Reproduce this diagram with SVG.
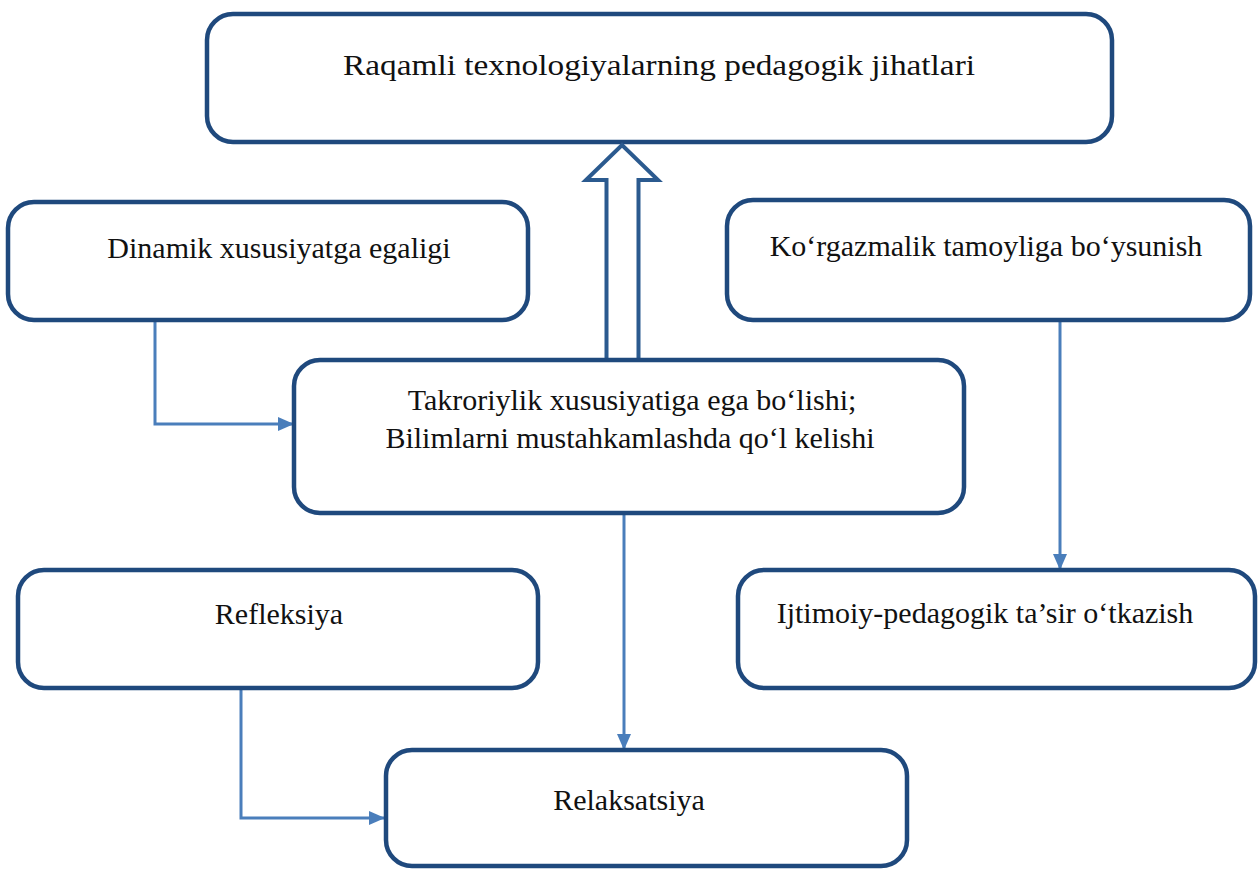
<svg xmlns="http://www.w3.org/2000/svg" width="1258" height="869" viewBox="0 0 1258 869">
<defs>
<style>
.box{fill:#fff;stroke:#1f497d;stroke-width:4.5}
.t{font-family:"Liberation Serif","Times New Roman",serif;font-size:30px;fill:#111;text-anchor:middle}
.c{fill:none;stroke:#4a7ebb;stroke-width:3}
.big{fill:#fff;stroke:#2b5a8f;stroke-width:4;stroke-linejoin:miter}
</style>
<marker id="ah" viewBox="0 0 16 14" refX="16" refY="7" markerWidth="16" markerHeight="14" markerUnits="userSpaceOnUse" orient="auto">
<path d="M0,0 L16,7 L0,14 Z" fill="#4a7ebb"/>
</marker>
</defs>
<rect width="1258" height="869" fill="#fff"/>
<g id="n-title"><rect class="box" x="207" y="14" width="905" height="128" rx="26"/><text class="t" x="659" y="75" textLength="632" lengthAdjust="spacingAndGlyphs">Raqamli texnologiyalarning pedagogik jihatlari</text></g>
<g id="connectors">
<path class="big" d="M606.5,359 L606.5,180 L586,180 L622,145 L658,180 L638.5,180 L638.5,359"/>
<path class="c" d="M155,320 L155,424 L294,424" marker-end="url(#ah)"/>
<path class="c" d="M1060,320 L1060,570" marker-end="url(#ah)"/>
<path class="c" d="M624,513 L624,750" marker-end="url(#ah)"/>
<path class="c" d="M241,688 L241,818 L385,818" marker-end="url(#ah)"/>
</g>
<g id="n-dinamik"><rect class="box" x="8" y="202" width="520" height="118" rx="26"/><text class="t" x="279" y="258">Dinamik xususiyatga egaligi</text></g>
<g id="n-korgazmalik"><rect class="box" x="727" y="200" width="523" height="120" rx="26"/><text class="t" x="986" y="256">Ko‘rgazmalik tamoyliga bo‘ysunish</text></g>
<g id="n-takroriylik"><rect class="box" x="294" y="360" width="670" height="153" rx="26"/><text class="t" x="632" y="410">Takroriylik xususiyatiga ega bo‘lishi;</text><text class="t" x="630" y="448">Bilimlarni mustahkamlashda qo‘l kelishi</text></g>
<g id="n-refleksiya"><rect class="box" x="18" y="570" width="520" height="118" rx="26"/><text class="t" x="279" y="624">Refleksiya</text></g>
<g id="n-ijtimoiy"><rect class="box" x="738" y="570" width="517" height="118" rx="26"/><text class="t" x="985" y="623">Ijtimoiy-pedagogik ta’sir o‘tkazish</text></g>
<g id="n-relaksatsiya"><rect class="box" x="386" y="750" width="521" height="116" rx="26"/><text class="t" x="629" y="810">Relaksatsiya</text></g>
</svg>
